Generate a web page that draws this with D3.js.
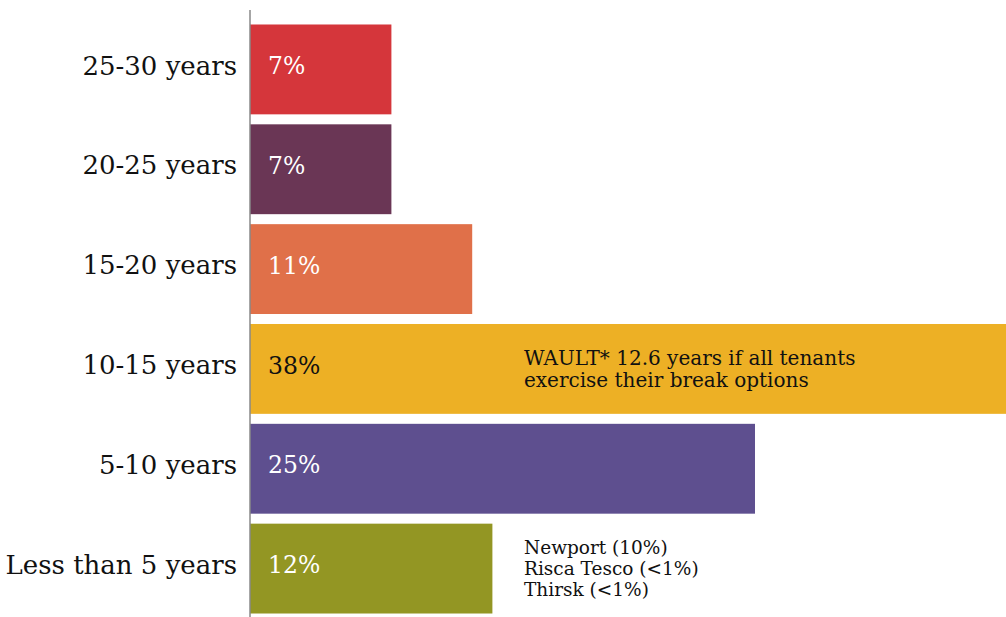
<!DOCTYPE html>
<html lang="en">
    <head>
        <meta charset="utf-8">
        <title>Lease expiry profile</title>
        <style>
            body { margin: 0; background: #fff; }
            text { font-family: "DejaVu Serif", serif; }
        </style>
    </head>
    <body>
        <script src="https://d3js.org/d3.v7.min.js"></script>
        <script type="text/javascript">

            // data
            var categories = ["25-30 years", "20-25 years", "15-20 years", "10-15 years", "5-10 years", "Less than 5 years"];
            var values = [7, 7, 11, 38, 25, 12];
            var valueLabels = ["7%", "7%", "11%", "38%", "25%", "12%"];
            var colors = ["#d5363b", "#6a3655", "#e07049", "#edb025", "#5e4f8f", "#939623"];
            var labelColors = ["#fff", "#fff", "#fff", "#111", "#fff", "#fff"];
            var waultNote = ["WAULT* 12.6 years if all tenants", "exercise their break options"];
            var shortNote = ["Newport (10%)", "Risca Tesco (<1%)", "Thirsk (<1%)"];

            var width = 1006, height = 617;
            var margin = {top: 19.5, left: 250};

            var svg = d3.select("body")
                        .append("svg")
                        .attr("width", width)
                        .attr("height", height);

            var yScale = d3.scaleBand()
                            .domain(categories)
                            .range([margin.top, margin.top + 599])
                            .paddingInner(0.1)
                            .paddingOuter(0.05);

            // about 20.2px per percent; the 38% bar runs off the page
            var xScale = d3.scaleLinear()
                            .domain([0, 100])
                            .range([margin.left, margin.left + 2020]);

            var data = categories.map((c, i) => ({cat: c, value: values[i], label: valueLabels[i], color: colors[i], labelColor: labelColors[i]}));

            // bars
            svg.selectAll(".bar")
                .data(data)
                .enter().append("rect")
                    .attr("class", "bar")
                    .attr("x", xScale(0))
                    .attr("y", d => yScale(d.cat))
                    .attr("width", d => xScale(d.value) - xScale(0))
                    .attr("height", yScale.bandwidth())
                    .attr("fill", d => d.color);

            // value labels in bars
            svg.selectAll(".val")
                .data(data)
                .enter().append("text")
                    .attr("class", "val")
                    .attr("x", xScale(0) + 18)
                    .attr("y", d => yScale(d.cat) + yScale.bandwidth() / 2)
                    .attr("dy", "0.2em")
                    .attr("fill", d => d.labelColor)
                    .style("font-size", "23.5px")
                    .text(d => d.label);

            // y axis: just the line and the labels
            var yAxis = svg.append("g")
                .attr("transform", `translate(${margin.left},0)`)
                .call(d3.axisLeft(yScale).tickSize(0).tickPadding(13));
            yAxis.select(".domain").remove();
            yAxis.selectAll("text")
                .attr("dy", "0.2em")
                .style("font-family", "DejaVu Serif, serif")
                .style("font-size", "26px")
                .attr("fill", "#111");

            svg.append("line")
                .attr("x1", margin.left).attr("x2", margin.left)
                .attr("y1", 10).attr("y2", height)
                .attr("stroke", "#888")
                .attr("stroke-width", 1.5);

            // notes
            var noteX = 524;
            svg.append("text")
                .attr("fill", "#111")
                .style("font-size", "20px")
                .selectAll("tspan")
                .data(waultNote)
                .enter().append("tspan")
                    .attr("x", noteX)
                    .attr("y", (d, i) => yScale("10-15 years") + yScale.bandwidth() / 2 - 11 + i * 22)
                    .attr("dy", "0.35em")
                    .text(d => d);

            svg.append("text")
                .attr("fill", "#111")
                .style("font-size", "18.5px")
                .selectAll("tspan")
                .data(shortNote)
                .enter().append("tspan")
                    .attr("x", noteX)
                    .attr("y", (d, i) => yScale("Less than 5 years") + yScale.bandwidth() / 2 - 21 + i * 21)
                    .attr("dy", "0.35em")
                    .text(d => d);

        </script>
    </body>
</html>
